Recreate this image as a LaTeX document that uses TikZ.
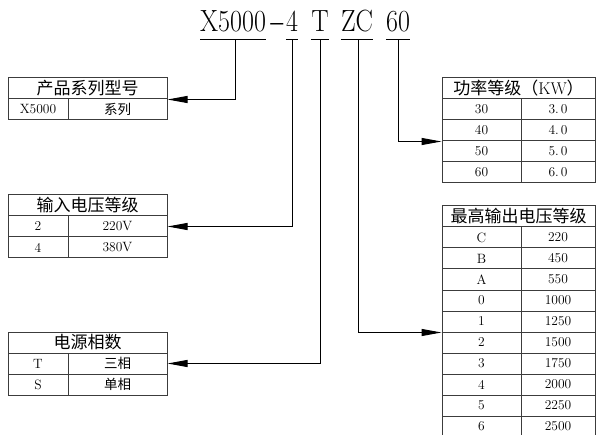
\documentclass[tikz,border=0pt]{standalone}
\usepackage{fontspec}
\newfontfamily\cjk{Noto Sans CJK SC}
\usetikzlibrary{arrows.meta}
\definecolor{tline}{HTML}{3C3C3C}
\newcommand\tscale[1]{\scalebox{1}[1.18]{#1}}
\begin{document}
\begin{tikzpicture}[x=1pt,y=-1pt,
  title/.style={inner sep=0pt, anchor=base, font=\fontsize{26}{30}\selectfont},
  hdr/.style={draw=tline, line width=1pt, minimum height=21pt, inner sep=0pt,
    font=\cjk\fontsize{17}{17}\selectfont},
  cell/.style={draw=tline, line width=1pt, minimum height=21pt, inner sep=0pt,
    font=\fontsize{13.5}{13.5}\selectfont},
  conn/.style={draw=black, line width=1pt, -{Triangle[length=20pt,width=7pt]}},
  uline/.style={draw=black, line width=1pt}]
\useasboundingbox (0,0) rectangle (596,435);
\clip (0,0) rectangle (596,435);

% title
\node[title, anchor=base west] (t1) at (200,32) {\tscale{X5000}};
\node[title] (td) at (278,32) {\tscale{\scalebox{2}[1.1]{-}}};
\node[title] (t2) at (292,32) {\tscale{4}};
\node[title] (t3) at (320,32) {\tscale{T}};
\node[title] (t4) at (357,32) {\tscale{ZC}};
\node[title] (t5) at (398,32) {\tscale{60}};

\coordinate (u1) at (235,40);
\coordinate (u2) at (292,40);
\coordinate (u3) at (320,40);
\coordinate (u4) at (358,40);
\coordinate (u5) at (398,40);

\draw[uline] (t1.base west |- u1) -- (t1.base east |- u1);
\draw[uline] (t2.base west |- u1) -- (t2.base east |- u1);
\draw[uline] (t3.base west |- u1) -- (t3.base east |- u1);
\draw[uline] (t4.base west |- u1) -- (t4.base east |- u1);
\draw[uline] (t5.base west |- u1) -- (t5.base east |- u1);

% table 1
\node[hdr, minimum width=159pt] (pH) at (87.5,88.5) {产品系列型号};
\node[cell, minimum width=60pt] (pA) at (38,109.5) {X5000};
\node[cell, minimum width=99pt] (pB) at (117.5,109.5) {\cjk 系列};

% table 2
\node[hdr, minimum width=159pt] (vH) at (87.5,205.5) {输入电压等级};
\node[cell, minimum width=60pt] (v2a) at (38,226.5) {2};
\node[cell, minimum width=99pt] (v2b) at (117.5,226.5) {220V};
\node[cell, minimum width=60pt] (v4a) at (38,247.5) {4};
\node[cell, minimum width=99pt] (v4b) at (117.5,247.5) {380V};

% table 3
\node[hdr, minimum width=159pt] (sH) at (87.5,342.5) {电源相数};
\node[cell, minimum width=60pt] (sTa) at (38,363.5) {T};
\node[cell, minimum width=99pt] (sTb) at (117.5,363.5) {\cjk 三相};
\node[cell, minimum width=60pt] (sSa) at (38,384.5) {S};
\node[cell, minimum width=99pt] (sSb) at (117.5,384.5) {\cjk 单相};

% power table
\node[hdr, minimum width=153pt] (kH) at (518.5,88.5) {功率等级（\rmfamily KW\cjk ）};
\node[cell, minimum width=79pt] (p30a) at (481.5,109.5) {30};
\node[cell, minimum width=74pt] (p30b) at (558,109.5) {3.\kern2pt0};
\node[cell, minimum width=79pt] (p40a) at (481.5,130.5) {40};
\node[cell, minimum width=74pt] (p40b) at (558,130.5) {4.\kern2pt0};
\node[cell, minimum width=79pt] (p50a) at (481.5,151.5) {50};
\node[cell, minimum width=74pt] (p50b) at (558,151.5) {5.\kern2pt0};
\node[cell, minimum width=79pt] (p60a) at (481.5,172.5) {60};
\node[cell, minimum width=74pt] (p60b) at (558,172.5) {6.\kern2pt0};

% output voltage table
\node[hdr, minimum width=153pt] (oH) at (518.5,216.5) {最高输出电压等级};
\node[cell, minimum width=79pt] (oCa) at (481.5,237.5) {C};
\node[cell, minimum width=74pt] (oCb) at (558,237.5) {220};
\node[cell, minimum width=79pt] (oBa) at (481.5,258.5) {B};
\node[cell, minimum width=74pt] (oBb) at (558,258.5) {450};
\node[cell, minimum width=79pt] (oAa) at (481.5,279.5) {A};
\node[cell, minimum width=74pt] (oAb) at (558,279.5) {550};
\node[cell, minimum width=79pt] (o0a) at (481.5,300.5) {0};
\node[cell, minimum width=74pt] (o0b) at (558,300.5) {1000};
\node[cell, minimum width=79pt] (o1a) at (481.5,321.5) {1};
\node[cell, minimum width=74pt] (o1b) at (558,321.5) {1250};
\node[cell, minimum width=79pt] (o2a) at (481.5,342.5) {2};
\node[cell, minimum width=74pt] (o2b) at (558,342.5) {1500};
\node[cell, minimum width=79pt] (o3a) at (481.5,363.5) {3};
\node[cell, minimum width=74pt] (o3b) at (558,363.5) {1750};
\node[cell, minimum width=79pt] (o4a) at (481.5,384.5) {4};
\node[cell, minimum width=74pt] (o4b) at (558,384.5) {2000};
\node[cell, minimum width=79pt] (o5a) at (481.5,405.5) {5};
\node[cell, minimum width=74pt] (o5b) at (558,405.5) {2250};
\node[cell, minimum width=79pt] (o6a) at (481.5,426.5) {6};
\node[cell, minimum width=74pt] (o6b) at (558,426.5) {2500};

% connectors
\draw[conn] (u1) |- (pH.south east);
\draw[conn] (u2) |- (v2b.east);
\draw[conn] (u3) |- (sTb.east);
\draw[conn] (u4) |- (o1a.south west);
\draw[conn] (u5) |- (p40a.south west);
\end{tikzpicture}
\end{document}
